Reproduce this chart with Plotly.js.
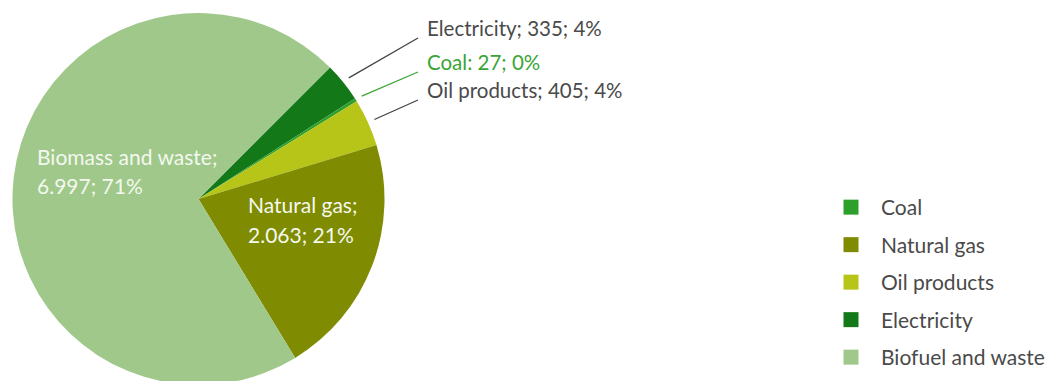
<!DOCTYPE html>
<html>
<head>
<meta charset="utf-8">
<script src="https://cdn.plot.ly/plotly-3.0.1.min.js"></script>
<style>
  html, body { margin: 0; padding: 0; background: #ffffff; overflow: hidden; }
  #chart { width: 1062px; height: 385px; }
</style>
</head>
<body>
<div id="chart"></div>
<script>
// ---- data ----
const sliceLabels = ['Electricity', 'Coal', 'Oil products', 'Natural gas', 'Biomass and waste'];
const sliceValues = [335, 27, 405, 2063, 6997];
const slicePercent = [4, 0, 4, 21, 71];
const sliceSeparator = [';', ':', ';', ';', ';'];
const legendLabels = ['Coal', 'Natural gas', 'Oil products', 'Electricity', 'Biofuel and waste'];

// ---- styles ----
const sliceColors = {
  'Electricity': '#137817',
  'Coal': '#2f9f2b',
  'Oil products': '#b6c518',
  'Natural gas': '#7f8b00',
  'Biomass and waste': '#9fc88a'
};
const legendColors = {
  'Coal': '#2f9f2b',
  'Natural gas': '#7f8b00',
  'Oil products': '#b6c518',
  'Electricity': '#137817',
  'Biofuel and waste': '#9fc88a'
};

const W = 1062, H = 385;
const FONT = 'Lato, "Open Sans", sans-serif';
const greyText = '#4a4a4a';
const px = x => x / W;
const py = y => 1 - y / H;

// pie geometry (pixels)
const cx = 198.5, cy = 199, R = 186;
const rotation = 45;

function fmt(v) { return String(v).replace(/\B(?=(\d{3})+(?!\d))/g, '.'); }

const pieTrace = {
  type: 'pie',
  labels: sliceLabels,
  values: sliceValues,
  sort: false,
  direction: 'clockwise',
  rotation: rotation,
  textinfo: 'none',
  hoverinfo: 'label+value+percent',
  showlegend: false,
  marker: { colors: sliceLabels.map(l => sliceColors[l]), line: { width: 0 } },
  domain: { x: [px(cx - R), px(cx + R)], y: [0, (2 * R) / H] }
};

const legendTraces = legendLabels.map((name, i) => ({
  type: 'scatter',
  mode: 'markers',
  x: [null], y: [null],
  name: name,
  legendgroup: 'g' + i,
  marker: { symbol: 'square', size: 15, color: legendColors[name] },
  hoverinfo: 'skip'
}));

// slice mid angles (degrees clockwise from 12 o'clock)
const total = sliceValues.reduce((a, b) => a + b, 0);
const midAngles = [];
let acc = rotation;
sliceValues.forEach(v => {
  const span = v / total * 360;
  midAngles.push(acc + span / 2);
  acc += span;
});

function labelText(i) {
  return sliceLabels[i] + sliceSeparator[i] + ' ' + fmt(sliceValues[i]) + '; ' + slicePercent[i] + '%';
}

const annotations = [];
const shapes = [];

// outside labels for the small slices
const outside = [
  { i: 0, y: 28, color: greyText, line: '#444444' },
  { i: 1, y: 62, color: '#3aa535', line: '#3aa535' },
  { i: 2, y: 90, color: greyText, line: '#444444' }
];
outside.forEach(o => {
  annotations.push({
    xref: 'paper', yref: 'paper', x: px(425), y: py(o.y),
    xanchor: 'left', yanchor: 'middle', showarrow: false,
    text: labelText(o.i), font: { family: FONT, size: 20.5, color: o.color }
  });
  const a = midAngles[o.i] * Math.PI / 180;
  const r0 = R + 7;
  shapes.push({
    type: 'line', xref: 'paper', yref: 'paper',
    x0: px(cx + r0 * Math.sin(a)), y0: py(cy - r0 * Math.cos(a)),
    x1: px(418), y1: py(o.y + 10),
    line: { color: o.line, width: 1.3 }
  });
});

// inside labels (two lines each)
const inside = [
  { i: 4, x: 35, y1: 156, y2: 186 },
  { i: 3, x: 246, y1: 205, y2: 234 }
];
inside.forEach(o => {
  annotations.push({
    xref: 'paper', yref: 'paper', x: px(o.x), y: py(o.y1),
    xanchor: 'left', yanchor: 'middle', showarrow: false,
    text: sliceLabels[o.i] + sliceSeparator[o.i],
    font: { family: FONT, size: 21, color: '#f4f8ef' }
  });
  annotations.push({
    xref: 'paper', yref: 'paper', x: px(o.x), y: py(o.y2),
    xanchor: 'left', yanchor: 'middle', showarrow: false,
    text: fmt(sliceValues[o.i]) + '; ' + slicePercent[o.i] + '%',
    font: { family: FONT, size: 21, color: '#f4f8ef' }
  });
});

const layout = {
  width: W, height: H,
  margin: { l: 0, r: 0, t: 0, b: 0 },
  paper_bgcolor: '#ffffff',
  plot_bgcolor: 'rgba(0,0,0,0)',
  showlegend: true,
  xaxis: { visible: false, domain: [0.98, 0.99] },
  yaxis: { visible: false, domain: [0.98, 0.99] },
  legend: {
    x: px(821), y: py(187), xanchor: 'left', yanchor: 'top',
    traceorder: 'grouped', tracegroupgap: 7.2,
    itemwidth: 50,
    font: { family: FONT, size: 21, color: greyText },
    bgcolor: 'rgba(0,0,0,0)', borderwidth: 0
  },
  annotations: annotations,
  shapes: shapes
};

Plotly.newPlot('chart', [pieTrace].concat(legendTraces), layout, { displayModeBar: false, staticPlot: true });
</script>
</body>
</html>
